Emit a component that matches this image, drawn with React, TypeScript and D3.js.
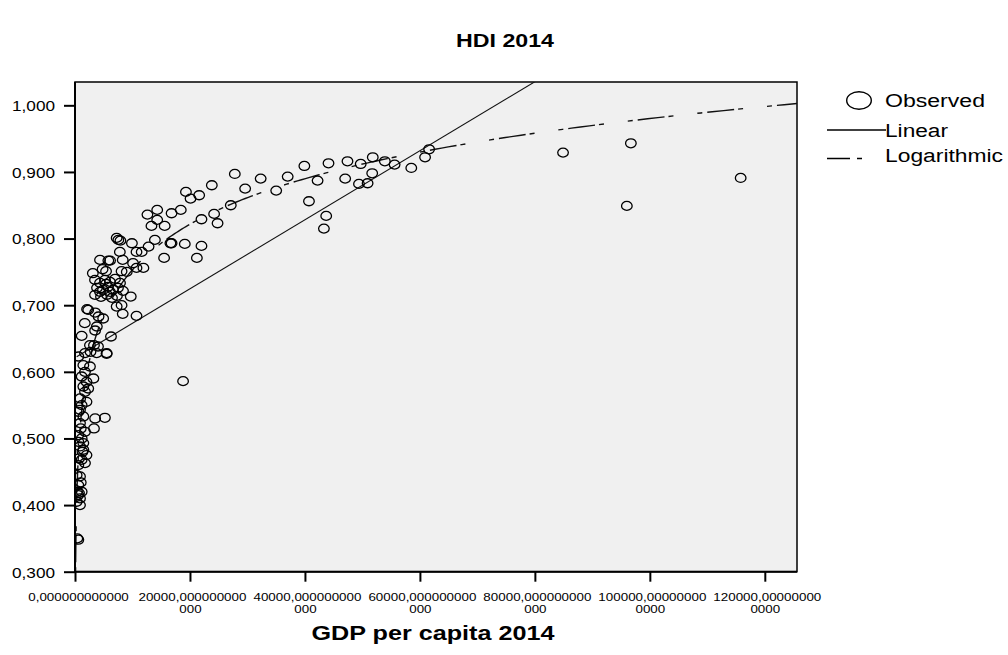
import { useEffect, useRef } from 'react';
import * as d3 from 'd3';

const WIDTH = 1008;
const HEIGHT = 655;

// [GDP per capita 2014, HDI 2014], grouped by income band
const highIncome: [number, number][] = [
  [84900, 0.929], [96700, 0.943], [96000, 0.849], [115800, 0.891],
  [61600, 0.934], [60900, 0.922], [58500, 0.906], [55600, 0.911], [53900, 0.916],
  [51800, 0.922], [49700, 0.912], [47400, 0.916], [44100, 0.913], [39900, 0.909],
  [37000, 0.893], [42200, 0.887], [47000, 0.890], [49400, 0.882], [50900, 0.883],
  [51700, 0.898], [40700, 0.856], [43700, 0.834], [43300, 0.815], [27800, 0.897],
  [32300, 0.890], [23800, 0.880], [29600, 0.875], [35000, 0.872], [19300, 0.870],
  [20100, 0.860], [21600, 0.865], [18400, 0.843], [16800, 0.838], [27100, 0.850],
  [22000, 0.829], [24200, 0.837], [24800, 0.823], [16800, 0.793], [19100, 0.792],
  [22000, 0.789], [21200, 0.771], [18800, 0.586],
];

const upperMiddle: [number, number][] = [
  [12600, 0.836], [14300, 0.843], [14300, 0.828], [13300, 0.819], [15600, 0.819],
  [16600, 0.793], [15500, 0.771], [13900, 0.798], [12800, 0.788], [11600, 0.780],
  [10700, 0.780], [7250, 0.801], [7900, 0.797], [9900, 0.793], [7800, 0.780],
  [8300, 0.768], [6100, 0.767], [5400, 0.751], [4800, 0.754], [3100, 0.748],
  [8100, 0.751], [9000, 0.750], [10100, 0.763], [10700, 0.756], [11900, 0.756],
  [4350, 0.768], [5800, 0.767], [7540, 0.798], [9700, 0.713], [8100, 0.700],
  [8300, 0.687], [10700, 0.684], [7250, 0.698],
];

// the dense knot around 0.72
const cluster: [number, number][] = [
  [3480, 0.738], [4350, 0.7335], [5220, 0.738], [6090, 0.735], [6960, 0.7395],
  [7830, 0.7335], [3830, 0.726], [4870, 0.723], [5740, 0.7275], [6610, 0.723],
  [7480, 0.726], [8350, 0.7215], [3480, 0.7155], [4520, 0.7125], [5570, 0.7155],
  [6440, 0.711], [7300, 0.714], [5390, 0.732], [4350, 0.720], [6090, 0.720],
];

const lowerMiddle: [number, number][] = [
  [2300, 0.693], [3500, 0.689], [4100, 0.683], [4900, 0.680], [1700, 0.673],
  [3800, 0.668], [2100, 0.694], [3500, 0.662], [1160, 0.654], [6260, 0.653],
  [580, 0.623], [5500, 0.627], [3300, 0.640], [2600, 0.640], [4000, 0.638],
  [2700, 0.630], [1740, 0.628], [3770, 0.628], [5510, 0.628], [1450, 0.610],
  [2600, 0.608], [1740, 0.600], [1160, 0.593], [3200, 0.590], [2000, 0.585],
  [1450, 0.578], [2300, 0.575], [1740, 0.570], [900, 0.560], [2000, 0.555],
];

const lowIncome: [number, number][] = [
  [1160, 0.550], [870, 0.543], [600, 0.540], [3500, 0.530], [5200, 0.531],
  [1450, 0.533], [870, 0.523], [3300, 0.515], [1000, 0.515], [1740, 0.510],
  [580, 0.505], [1160, 0.500], [580, 0.495], [1450, 0.493], [870, 0.488],
  [1450, 0.483], [1300, 0.480], [2000, 0.475], [700, 0.470], [1160, 0.468],
  [1740, 0.463], [580, 0.460], [290, 0.445], [870, 0.443], [1000, 0.434],
  [580, 0.430], [1160, 0.420], [350, 0.420], [700, 0.418], [580, 0.415],
  [870, 0.410], [290, 0.405], [870, 0.400], [580, 0.348], [400, 0.350],
];

// fitted curves (SPSS curve estimation)
const linearFit = { intercept: 0.621, slope: 0.00000518 };
const logFit = { a: -0.155, b: 0.0986 };

const xTicks = [0, 20000, 40000, 60000, 80000, 100000, 120000];
const yTicks = [0.3, 0.4, 0.5, 0.6, 0.7, 0.8, 0.9, 1.0];
const xDomain: [number, number] = [0, 125600];
const yDomain: [number, number] = [0.3, 1.035];

const legendItems = ['Observed', 'Linear', 'Logarithmic'];

// SPSS prints 12 decimals and wraps the label after 15 characters
function xLabelLines(v: number): string[] {
  const s = `${v},` + '0'.repeat(12);
  return s.length <= 15 ? [s] : [s.slice(0, 15), s.slice(15)];
}

function textWidth(s: string) {
  // measured glyph widths on the reference
  let w = 0;
  for (const ch of s) w += ch === ',' ? 3.7 : 7.45;
  return w;
}

export default function App() {
  const svgRef = useRef<SVGSVGElement>(null);

  useEffect(() => {
    if (!svgRef.current) return;
    const svg = d3.select(svgRef.current);
    svg.selectAll('*').remove();

    const left = 75, right = 797, top = 82, bottom = 571.7;

    const x = d3.scaleLinear().domain(xDomain).range([left, right]);
    const y = d3.scaleLinear().domain(yDomain).range([bottom, top]);

    svg.append('rect').attr('width', WIDTH).attr('height', HEIGHT).attr('fill', '#ffffff');

    const font = "'Liberation Sans', Arial, sans-serif";

    // title
    svg.append('text')
      .attr('x', 505).attr('y', 47)
      .attr('text-anchor', 'middle')
      .attr('font-family', font).attr('font-weight', 'bold').attr('font-size', 19)
      .attr('textLength', 98).attr('lengthAdjust', 'spacingAndGlyphs')
      .text('HDI 2014');

    // plot frame
    svg.append('rect')
      .attr('x', left).attr('y', top)
      .attr('width', right - left).attr('height', bottom - top)
      .attr('fill', '#f0f0f0')
      .attr('stroke', '#000').attr('stroke-width', 1.5);

    const defs = svg.append('defs');
    defs.append('clipPath').attr('id', 'plotClip')
      .append('rect')
      .attr('x', left).attr('y', top)
      .attr('width', right - left).attr('height', bottom - top);

    const plot = svg.append('g').attr('clip-path', 'url(#plotClip)');

    const all = [...highIncome, ...upperMiddle, ...cluster, ...lowerMiddle, ...lowIncome];
    const minGdp = d3.min(all, d => d[0]) || 0;

    // linear fit
    plot.append('line')
      .attr('x1', x(minGdp)).attr('y1', y(linearFit.intercept + linearFit.slope * minGdp))
      .attr('x2', x(xDomain[1])).attr('y2', y(linearFit.intercept + linearFit.slope * xDomain[1]))
      .attr('stroke', '#111').attr('stroke-width', 1.1);

    // logarithmic fit
    const logXs = d3.range(0, 401).map(i => 100 * Math.pow(xDomain[1] / 100, i / 400));
    const logLine = d3.line<number>()
      .x(d => x(d))
      .y(d => y(logFit.a + logFit.b * Math.log(d)));
    plot.append('path')
      .datum(logXs)
      .attr('fill', 'none')
      .attr('stroke', '#111').attr('stroke-width', 1.4)
      .attr('stroke-dasharray', '5,5,27,4,5,24')
      .attr('d', logLine);

    // observed
    plot.append('g')
      .selectAll('ellipse')
      .data(all)
      .join('ellipse')
      .attr('cx', d => x(d[0]))
      .attr('cy', d => y(d[1]))
      .attr('rx', 5.3).attr('ry', 4.5)
      .attr('fill', 'none')
      .attr('stroke', '#000').attr('stroke-width', 1.3);

    // axes lines
    svg.append('line').attr('x1', left).attr('x2', left).attr('y1', top).attr('y2', bottom + 1)
      .attr('stroke', '#000').attr('stroke-width', 2);
    svg.append('line').attr('x1', left - 1).attr('x2', right).attr('y1', bottom).attr('y2', bottom)
      .attr('stroke', '#000').attr('stroke-width', 2);

    // y axis
    const yAxis = svg.append('g')
      .attr('transform', `translate(${left},0)`)
      .call(d3.axisLeft(y).tickValues(yTicks).tickSize(11).tickPadding(8)
        .tickFormat(d => d3.format('.3f')(Number(d)).replace('.', ',')));
    yAxis.select('.domain').remove();
    yAxis.selectAll('.tick line').attr('stroke', '#000').attr('stroke-width', 2);
    yAxis.selectAll('.tick text')
      .attr('font-family', font).attr('font-size', 15).attr('fill', '#000')
      .attr('x', -20).attr('dy', '0.36em')
      .attr('textLength', 43).attr('lengthAdjust', 'spacingAndGlyphs');

    // x axis
    const xAxis = svg.append('g')
      .attr('transform', `translate(0,${bottom})`)
      .call(d3.axisBottom(x).tickValues(xTicks).tickSize(10).tickFormat(() => ''));
    xAxis.select('.domain').remove();
    xAxis.selectAll('.tick line').attr('stroke', '#000').attr('stroke-width', 2);
    xAxis.selectAll<SVGGElement, number>('.tick').each(function (v) {
      const lines = xLabelLines(v);
      const g = d3.select(this);
      lines.forEach((line, i) => {
        g.append('text')
          .attr('x', i === 0 ? (lines.length === 1 ? 3 : 2) : 0)
          .attr('y', 29 + i * 12)
          .attr('text-anchor', 'middle')
          .attr('font-family', font).attr('font-size', 10.5).attr('fill', '#000')
          .attr('textLength', textWidth(line)).attr('lengthAdjust', 'spacingAndGlyphs')
          .text(line);
      });
    });

    // x axis title
    svg.append('text')
      .attr('x', 433).attr('y', 640)
      .attr('text-anchor', 'middle')
      .attr('font-family', font).attr('font-weight', 'bold').attr('font-size', 19.5)
      .attr('textLength', 243).attr('lengthAdjust', 'spacingAndGlyphs')
      .text('GDP per capita 2014');

    // legend
    const legend = svg.append('g');
    legend.append('ellipse')
      .attr('cx', 859).attr('cy', 100.5).attr('rx', 12.3).attr('ry', 8.8)
      .attr('fill', 'none').attr('stroke', '#000').attr('stroke-width', 1.4);
    legend.append('line')
      .attr('x1', 827).attr('x2', 886).attr('y1', 130).attr('y2', 130)
      .attr('stroke', '#000').attr('stroke-width', 1.3);
    legend.append('line')
      .attr('x1', 827).attr('x2', 862).attr('y1', 158.5).attr('y2', 158.5)
      .attr('stroke', '#000').attr('stroke-width', 1.4)
      .attr('stroke-dasharray', '23,7,5,100');
    const legendY = [107, 137, 162];
    const legendW = [100, 63, 118];
    legendItems.forEach((name, i) => {
      legend.append('text')
        .attr('x', 885).attr('y', legendY[i])
        .attr('font-family', font).attr('font-size', 18).attr('fill', '#000')
        .attr('textLength', legendW[i]).attr('lengthAdjust', 'spacingAndGlyphs')
        .text(name);
    });
  }, []);

  return (
    <svg
      ref={svgRef}
      width={WIDTH}
      height={HEIGHT}
      style={{ position: 'absolute', left: 0, top: 0, display: 'block' }}
    />
  );
}
